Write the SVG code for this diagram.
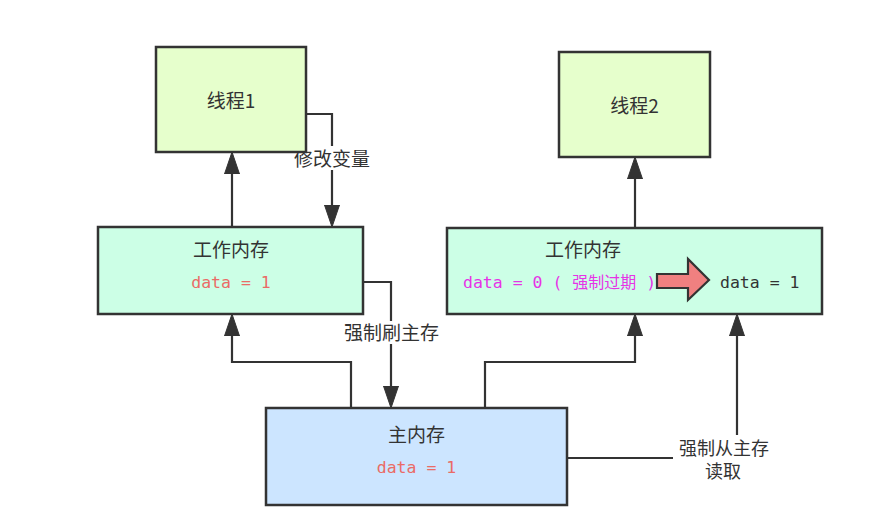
<svg xmlns="http://www.w3.org/2000/svg" width="874" height="507" viewBox="0 0 874 507">
<style>
.box{stroke:#333;stroke-width:2.5}
.t{font-family:"Noto Sans CJK SC","Noto Sans",sans-serif;font-size:19px;fill:#333;text-anchor:middle}
.s{font-size:18px}
.m{font-family:"DejaVu Sans Mono","Liberation Mono",monospace;font-size:16.5px}
.c{fill:none;stroke:#333;stroke-width:2.2}
.bg{fill:#fff}
</style>
<defs>
<marker id="ah" markerUnits="userSpaceOnUse" markerWidth="23" markerHeight="16" refX="0" refY="8" orient="auto" viewBox="0 0 23 16">
<path d="M0,0.5 L22,8 L0,15.5 z" fill="#333" stroke="#333" stroke-width="1"/>
</marker>
</defs>
<rect width="874" height="507" fill="#fff"/>
<g id="connectors">
<path class="c" d="M232,227 V174" marker-end="url(#ah)"/>
<path class="c" d="M306,114 H332 V205" marker-end="url(#ah)"/>
<path class="c" d="M363,282 H391 V386" marker-end="url(#ah)"/>
<path class="c" d="M351,408 V362 H232 V336" marker-end="url(#ah)"/>
<path class="c" d="M485,408 V362 H635 V336" marker-end="url(#ah)"/>
<path class="c" d="M635,228 V179" marker-end="url(#ah)"/>
<path class="c" d="M567,458 H737 V336" marker-end="url(#ah)"/>
<rect class="bg" x="292" y="146" width="80" height="24"/>
<text class="t" x="332" y="166">修改变量</text>
<rect class="bg" x="342" y="321" width="99" height="23"/>
<text class="t" x="391.5" y="340">强制刷主存</text>
<rect class="bg" x="673" y="435" width="102" height="47"/>
<text class="t s" x="724" y="455">强制从主存</text>
<text class="t s" x="723" y="478">读取</text>
</g>
<g id="thread1">
<rect class="box" x="156" y="47" width="150" height="105" fill="#E6FFCC"/>
<text class="t" x="231" y="108">线程1</text>
</g>
<g id="thread2">
<rect class="box" x="559" y="52" width="151" height="105" fill="#E6FFCC"/>
<text class="t" x="634.5" y="113">线程2</text>
</g>
<g id="workmem1">
<rect class="box" x="98" y="227" width="265" height="87" fill="#CCFFE6"/>
<text class="t" x="231" y="257">工作内存</text>
<text class="m" x="231" y="288" fill="#EA6B66" text-anchor="middle">data = 1</text>
</g>
<g id="workmem2">
<rect class="box" x="447" y="228" width="375" height="86" fill="#CCFFE6"/>
<text class="t" x="583" y="257">工作内存</text>
<text class="m" x="463" y="288" fill="#E633E6">data = 0 ( <tspan font-family="Noto Sans CJK SC,sans-serif" font-size="16">强制过期</tspan> )</text>
<path d="M657,274 H688 V259 L709,280 L688,300 V288 H657 z" fill="#F08080" stroke="#333" stroke-width="2.2" stroke-linejoin="miter"/>
<text class="m" x="720" y="288" fill="#333">data = 1</text>
</g>
<g id="mainmem">
<rect class="box" x="266" y="408" width="301" height="97" fill="#CCE5FF"/>
<text class="t" x="416.5" y="442">主内存</text>
<text class="m" x="416.5" y="473" fill="#EA6B66" text-anchor="middle">data = 1</text>
</g>
</svg>
